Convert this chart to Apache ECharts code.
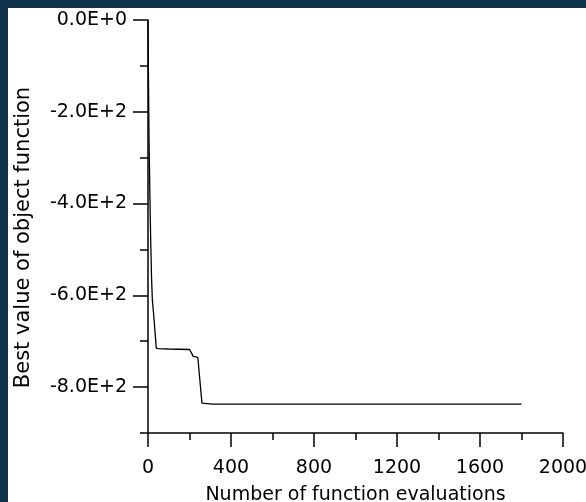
<!DOCTYPE html>
<html><head><meta charset="utf-8">
<script src="https://cdn.jsdelivr.net/npm/echarts@6/dist/echarts.min.js"></script>
<style>
html,body{margin:0;padding:0;background:#0e324a;width:586px;height:502px;overflow:hidden}
#c{position:absolute;left:8px;top:8px;width:578px;height:494px;background:#fff}
</style></head><body><div id="c"></div>
<script>
const evaluations = [0, 2, 5, 9, 13, 17, 21, 27, 40, 50, 100, 200, 210, 218, 240, 260, 310, 1800];
const bestValues = [0, -120, -260, -380, -480, -560, -610, -640, -715, -716, -717, -718, -726, -733, -735, -835, -837, -837];
const xMajorTicks = [0, 400, 800, 1200, 1600, 2000];
const xMinorTicks = [200, 600, 1000, 1400, 1800];
const yMajorTicks = [0, -200, -400, -600, -800];
const yMinorTicks = [-100, -300, -500, -700, -900];

function sci(v) {
  if (v === 0) return '0.0E+0';
  const e = Math.floor(Math.log10(Math.abs(v)));
  const m = v / Math.pow(10, e);
  return m.toFixed(1) + 'E+' + e;
}
const font = 'DejaVu Sans';
const black = '#000';
const chart = echarts.init(document.getElementById('c'), null, {renderer: 'canvas'});
const option = {
  animation: false,
  grid: {left: 140, top: 12, right: 23, bottom: 69, containLabel: false, outerBoundsMode: 'none'},
  xAxis: [
    {
      type: 'value', min: 0, max: 2000, position: 'bottom',
      axisLine: {show: true, onZero: false, lineStyle: {color: black, width: 1.5}},
      axisTick: {show: true, length: 14, customValues: xMajorTicks, lineStyle: {color: black, width: 1.5}},
      axisLabel: {show: true, customValues: xMajorTicks, margin: 26, color: black, fontFamily: font, fontSize: 19,
        formatter: v => String(v), hideOverlap: false},
      splitLine: {show: false},
      name: 'Number of function evaluations', nameLocation: 'middle', nameGap: 53,
      nameTextStyle: {color: black, fontFamily: font, fontSize: 19}
    },
    {
      type: 'value', min: 0, max: 2000, position: 'bottom',
      axisLine: {show: false, onZero: false},
      axisTick: {show: true, length: 7, customValues: xMinorTicks, lineStyle: {color: black, width: 1.5}},
      axisLabel: {show: false},
      splitLine: {show: false}
    }
  ],
  yAxis: [
    {
      type: 'value', min: -900, max: 0, position: 'left',
      axisLine: {show: true, onZero: false, lineStyle: {color: black, width: 1.5}},
      axisTick: {show: true, length: 15, customValues: yMajorTicks, lineStyle: {color: black, width: 1.5}},
      axisLabel: {show: true, customValues: yMajorTicks, margin: 21, color: black, fontFamily: font, fontSize: 19, formatter: sci},
      splitLine: {show: false},
      name: 'Best value of object function', nameLocation: 'middle', nameGap: 114, nameRotate: 90,
      nameTextStyle: {color: black, fontFamily: font, fontSize: 21, padding: [0, 22, 0, 0]}
    },
    {
      type: 'value', min: -900, max: 0, position: 'left',
      axisLine: {show: false, onZero: false},
      axisTick: {show: true, length: 8, customValues: yMinorTicks, lineStyle: {color: black, width: 1.5}},
      axisLabel: {show: false},
      splitLine: {show: false}
    }
  ],
  series: [{
    type: 'line', xAxisIndex: 0, yAxisIndex: 0,
    data: evaluations.map((x, i) => [x, bestValues[i]]),
    showSymbol: false, symbol: 'none',
    lineStyle: {color: black, width: 1.3},
    z: 3
  }]
};
chart.setOption(option);
</script></body></html>
